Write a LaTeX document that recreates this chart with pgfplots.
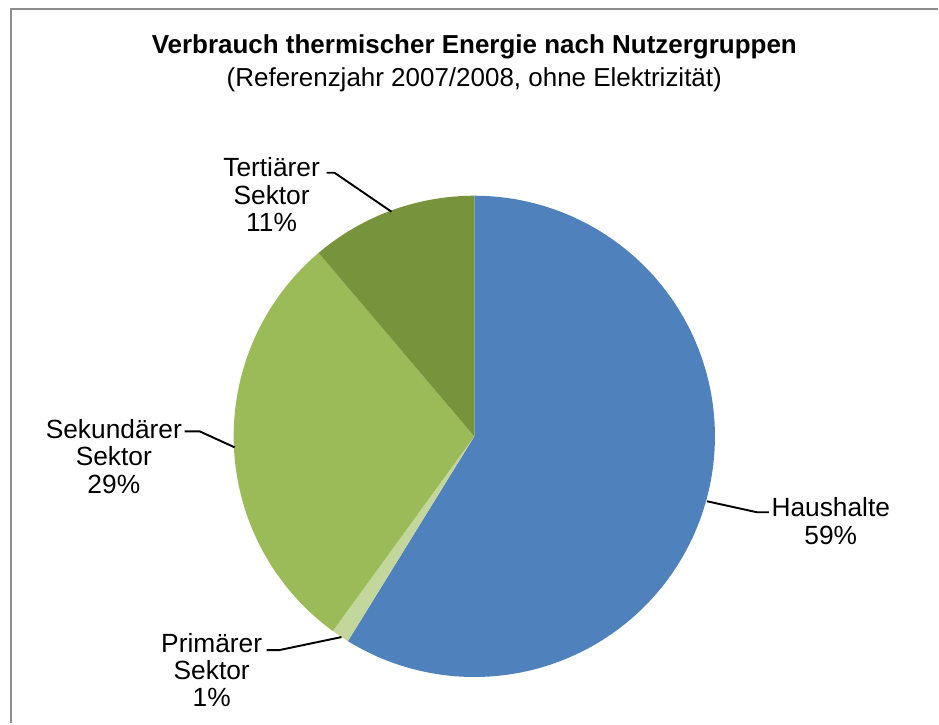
\documentclass[border=0pt]{standalone}
\usepackage{pgfplots}
\pgfplotsset{compat=1.18}
\usepackage{fontspec}
\setmainfont{Liberation Sans}
\definecolor{hh}{HTML}{4F81BD}
\definecolor{ps}{HTML}{C3D69B}
\definecolor{ss}{HTML}{9BBB59}
\definecolor{ts}{HTML}{77933C}
\definecolor{frm}{HTML}{8C8C8C}
\begin{document}
\begin{tikzpicture}
% shares in percent: Haushalte, Primaerer, Sekundaerer, Tertiaerer Sektor
\def\vH{58.8}\def\vP{1.2}\def\vS{28.8}\def\vT{11.2}
\pgfmathsetmacro\aA{90}
\pgfmathsetmacro\aB{\aA-3.6*\vH}
\pgfmathsetmacro\aC{\aB-3.6*\vP}
\pgfmathsetmacro\aD{\aC-3.6*\vS}
\pgfmathsetmacro\aE{\aD-3.6*\vT}
\begin{axis}[width=9.39cm, height=7.24cm, scale only axis,
  xmin=0, xmax=939, ymin=0, ymax=724, hide axis, clip=false]
\addplot[draw=none] coordinates {(0,0) (939,724)};
% frame
\addplot[frm, line width=0.8pt] coordinates {(11,0) (11,715) (939,715)};
% slices
\addplot[fill=hh, draw=none, domain=\aB:\aA, samples=150, variable=\t]
  ({475+241*cos(\t)}, {287+241*sin(\t)}) -- (axis cs:475,287) -- cycle;
\addplot[fill=ps, draw=none, domain=\aC:\aB, samples=10, variable=\t]
  ({475+241*cos(\t)}, {287+241*sin(\t)}) -- (axis cs:475,287) -- cycle;
\addplot[fill=ss, draw=none, domain=\aD:\aC, samples=80, variable=\t]
  ({475+241*cos(\t)}, {287+241*sin(\t)}) -- (axis cs:475,287) -- cycle;
\addplot[fill=ts, draw=none, domain=\aE:\aD, samples=40, variable=\t]
  ({475+241*cos(\t)}, {287+241*sin(\t)}) -- (axis cs:475,287) -- cycle;
% leader lines
\addplot[black, line width=0.55pt] coordinates {(327,551) (335,551) (392,512)};
\addplot[black, line width=0.55pt] coordinates {(185,292) (200,292) (235,276)};
\addplot[black, line width=0.55pt] coordinates {(267,73) (280,73) (342,86)};
\addplot[black, line width=0.55pt] coordinates {(708,222) (758,211) (770,211)};
% titles
\node[font=\bfseries\fontsize{7.4}{8.5}\selectfont] at (axis cs:475,677) {Verbrauch thermischer Energie nach Nutzergruppen};
\node[font=\fontsize{7.4}{8.5}\selectfont] at (axis cs:475,644) {(Referenzjahr 2007/2008, ohne Elektrizität)};
% labels
\node[align=center, font=\fontsize{7.5}{7.8}\selectfont] at (axis cs:272,529) {Tertiärer\\Sektor\\11\%};
\node[align=center, font=\fontsize{7.5}{7.8}\selectfont] at (axis cs:114,267) {Sekundärer\\Sektor\\29\%};
\node[align=center, font=\fontsize{7.5}{7.8}\selectfont] at (axis cs:212,53) {Primärer\\Sektor\\1\%};
\node[align=center, font=\fontsize{7.5}{7.8}\selectfont] at (axis cs:832,202) {Haushalte\\59\%};
\end{axis}
\end{tikzpicture}
\end{document}
